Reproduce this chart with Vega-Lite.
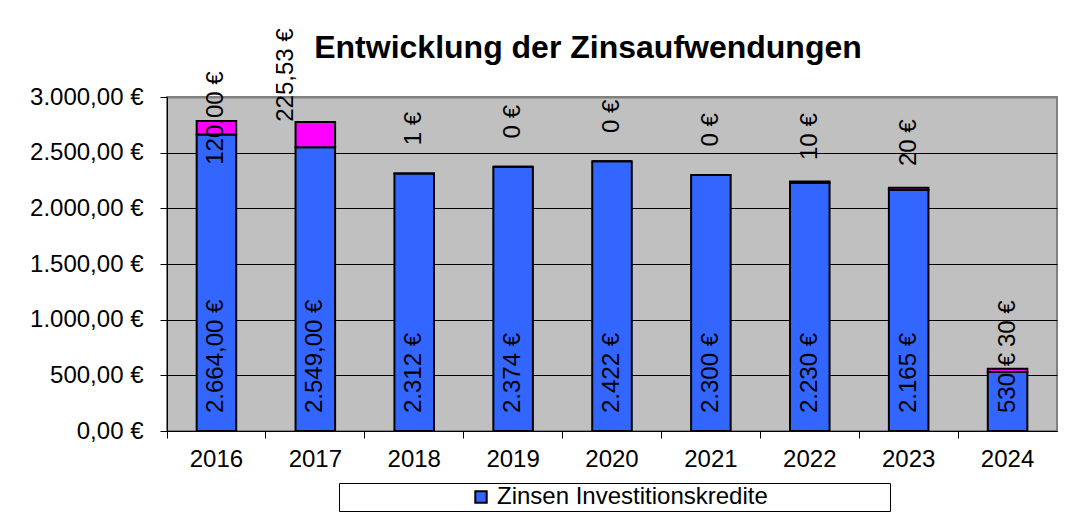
{
  "$schema": "https://vega.github.io/schema/vega-lite/v6.json",
  "width": 890,
  "height": 334,
  "autosize": {"type": "none"},
  "padding": {"left": 167, "top": 97, "right": 12, "bottom": 85},
  "background": "white",
  "title": {
    "text": "Entwicklung der Zinsaufwendungen",
    "font": "Liberation Sans",
    "fontSize": 32,
    "fontWeight": "bold",
    "color": "black",
    "anchor": "middle",
    "frame": "group",
    "baseline": "alphabetic",
    "offset": -62,
    "dx": -24
  },
  "config": {
    "locale": {"number": {"decimal": ",", "thousands": ".", "grouping": [3], "currency": ["", " €"]}},
    "view": {"fill": "#C0C0C0", "stroke": "#808080", "strokeWidth": 2},
    "font": "Liberation Sans"
  },
  "data": {
    "values": [
      {"year": "2016", "series": "Zinsen Investitionskredite", "value": 2664, "label": "2.664,00 €"},
      {"year": "2016", "series": "Sonstige Zinsen", "value": 120, "label": "120,00 €"},
      {"year": "2017", "series": "Zinsen Investitionskredite", "value": 2549, "label": "2.549,00 €"},
      {"year": "2017", "series": "Sonstige Zinsen", "value": 225.53, "label": "225,53 €"},
      {"year": "2018", "series": "Zinsen Investitionskredite", "value": 2312, "label": "2.312 €"},
      {"year": "2018", "series": "Sonstige Zinsen", "value": 1, "label": "1 €"},
      {"year": "2019", "series": "Zinsen Investitionskredite", "value": 2374, "label": "2.374 €"},
      {"year": "2019", "series": "Sonstige Zinsen", "value": 0, "label": "0 €"},
      {"year": "2020", "series": "Zinsen Investitionskredite", "value": 2422, "label": "2.422 €"},
      {"year": "2020", "series": "Sonstige Zinsen", "value": 0, "label": "0 €"},
      {"year": "2021", "series": "Zinsen Investitionskredite", "value": 2300, "label": "2.300 €"},
      {"year": "2021", "series": "Sonstige Zinsen", "value": 0, "label": "0 €"},
      {"year": "2022", "series": "Zinsen Investitionskredite", "value": 2230, "label": "2.230 €"},
      {"year": "2022", "series": "Sonstige Zinsen", "value": 10, "label": "10 €"},
      {"year": "2023", "series": "Zinsen Investitionskredite", "value": 2165, "label": "2.165 €"},
      {"year": "2023", "series": "Sonstige Zinsen", "value": 20, "label": "20 €"},
      {"year": "2024", "series": "Zinsen Investitionskredite", "value": 530, "label": "530 €"},
      {"year": "2024", "series": "Sonstige Zinsen", "value": 30, "label": "30 €"}
    ]
  },
  "transform": [
    {"stack": "value", "groupby": ["year"], "sort": [{"field": "series", "order": "descending"}], "as": ["v0", "v1"]}
  ],
  "encoding": {
    "x": {
      "field": "year",
      "type": "nominal",
      "sort": null,
      "scale": {"paddingInner": 0, "paddingOuter": 0},
      "axis": {
        "title": null,
        "labelAngle": 0,
        "labelFontSize": 24,
        "labelColor": "black",
        "labelFont": "Liberation Sans",
        "labelPadding": 9,
        "tickSize": 7,
        "tickColor": "black",
        "domainColor": "black",
        "bandPosition": 0,
        "grid": false
      }
    }
  },
  "layer": [
    {
      "mark": {"type": "bar", "stroke": "black", "strokeWidth": 2, "width": {"band": 0.4}},
      "encoding": {
        "y": {
          "field": "v0",
          "type": "quantitative",
          "scale": {"domain": [0, 3000], "nice": false},
          "axis": {
            "title": null,
            "values": [0, 500, 1000, 1500, 2000, 2500, 3000],
            "format": "$,.2f",
            "labelFontSize": 24,
            "labelColor": "black",
            "labelFont": "Liberation Sans",
            "labelPadding": 17,
            "tickSize": 7,
            "tickColor": "black",
            "domainColor": "black",
            "grid": true,
            "gridColor": {"condition": {"test": "datum.value === 3000", "value": "#808080"}, "value": "black"},
            "gridWidth": {"condition": {"test": "datum.value === 3000", "value": 2}, "value": 1},
            "gridOpacity": 1
          }
        },
        "y2": {"field": "v1"},
        "color": {
          "field": "series",
          "type": "nominal",
          "scale": {"domain": ["Zinsen Investitionskredite", "Sonstige Zinsen"], "range": ["#3366FF", "#FF00FF"]},
          "legend": {
            "orient": "none",
            "legendX": 172,
            "legendY": 386,
            "title": null,
            "values": ["Zinsen Investitionskredite"],
            "symbolType": "square",
            "symbolSize": 130,
            "symbolStrokeColor": "black",
            "symbolStrokeWidth": 2,
            "symbolOffset": 128,
            "labelOffset": 4,
            "labelFontSize": 24,
            "labelFont": "Liberation Sans",
            "labelColor": "black",
            "labelLimit": 800,
            "labelExpr": "datum.label + '\u00a0\u00a0\u00a0\u00a0\u00a0\u00a0\u00a0\u00a0\u00a0\u00a0\u00a0\u00a0\u00a0\u00a0\u00a0\u00a0\u00a0\u00a0\u200b'",
            "strokeColor": "black",
            "fillColor": "white",
            "padding": 2
          }
        }
      }
    },
    {
      "transform": [{"filter": "datum.series === 'Zinsen Investitionskredite'"}],
      "mark": {"type": "text", "angle": 270, "align": "left", "baseline": "middle", "dx": 18, "fontSize": 24, "font": "Liberation Sans", "color": "black"},
      "encoding": {
        "y": {"field": "v0", "type": "quantitative"},
        "text": {"field": "label"}
      }
    },
    {
      "transform": [{"filter": "datum.series === 'Sonstige Zinsen' && datum.year !== '2016' && datum.year !== '2017'"}],
      "mark": {"type": "text", "angle": 270, "align": "center", "baseline": "middle", "dx": 45, "fontSize": 24, "font": "Liberation Sans", "color": "black"},
      "encoding": {
        "y": {"field": "v1", "type": "quantitative"},
        "text": {"field": "label"}
      }
    },
    {
      "transform": [{"filter": "datum.series === 'Sonstige Zinsen' && datum.year === '2016'"}],
      "mark": {"type": "text", "angle": 270, "align": "center", "baseline": "middle", "dx": 3, "fontSize": 24, "font": "Liberation Sans", "color": "black"},
      "encoding": {
        "y": {"field": "v1", "type": "quantitative"},
        "text": {"field": "label"}
      }
    },
    {
      "transform": [{"filter": "datum.series === 'Sonstige Zinsen' && datum.year === '2017'"}],
      "mark": {"type": "text", "angle": 270, "align": "center", "baseline": "middle", "dx": 47, "dy": -29, "fontSize": 24, "font": "Liberation Sans", "color": "black"},
      "encoding": {
        "y": {"field": "v1", "type": "quantitative"},
        "text": {"field": "label"}
      }
    }
  ]
}
